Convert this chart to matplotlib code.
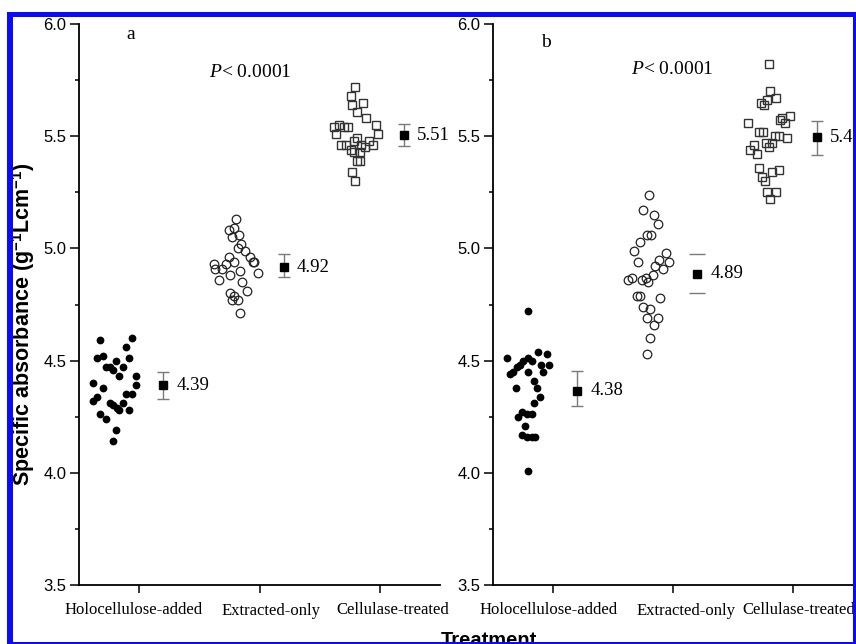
import matplotlib
matplotlib.use("Agg")
import matplotlib.pyplot as plt
from matplotlib.patches import Rectangle
from matplotlib.ticker import MultipleLocator, FormatStrFormatter
from matplotlib.transforms import ScaledTranslation

plt.rcParams["mathtext.fontset"] = "custom"
plt.rcParams["mathtext.it"] = "Liberation Serif:italic"
plt.rcParams["mathtext.rm"] = "Liberation Serif"
plt.rcParams["mathtext.bf"] = "Liberation Sans:bold"

# ---------------- data ----------------
categories = ["Holocellulose-added", "Extracted-only", "Cellulase-treated"]
yticks = [3.5, 4.0, 4.5, 5.0, 5.5, 6.0]

# panel a
holo_a = [4.59, 4.60, 4.56, 4.51, 4.52, 4.51, 4.50, 4.47, 4.47, 4.46,
          4.47, 4.43, 4.43, 4.40, 4.39, 4.38, 4.34, 4.32, 4.35, 4.35,
          4.31, 4.30, 4.29, 4.31, 4.28, 4.28, 4.26, 4.24, 4.19, 4.14]
holo_a_jit = [-0.325, -0.056, -0.108, -0.353, -0.297, -0.081, -0.192, -0.275, -0.242, -0.214,
              -0.136, -0.164, -0.025, -0.381, -0.025, -0.297, -0.353, -0.381, -0.108, -0.056,
              -0.242, -0.214, -0.186, -0.136, -0.164, -0.081, -0.325, -0.275, -0.192, -0.219]
extr_a = [5.13, 5.08, 5.09, 5.05, 5.06, 5.00, 5.02, 4.99, 4.96, 4.94,
          4.94, 4.96, 4.94, 4.93, 4.93, 4.91, 4.91, 4.90, 4.89, 4.88,
          4.86, 4.85, 4.81, 4.80, 4.79, 4.77, 4.77, 4.71]
extr_a_jit = [-0.192, -0.256, -0.214, -0.228, -0.172, -0.181, -0.150, -0.122, -0.081, -0.053,
              -0.048, -0.256, -0.214, -0.278, -0.381, -0.367, -0.311, -0.158, -0.014, -0.242,
              -0.339, -0.144, -0.103, -0.247, -0.214, -0.228, -0.181, -0.164]
cell_a = [5.72, 5.68, 5.65, 5.64, 5.61, 5.58, 5.55, 5.51, 5.54, 5.55,
          5.54, 5.54, 5.51, 5.49, 5.48, 5.48, 5.46, 5.46, 5.46, 5.46,
          5.45, 5.44, 5.43, 5.43, 5.39, 5.39, 5.34, 5.30]
cell_a_jit = [-0.206, -0.242, -0.144, -0.228, -0.186, -0.111, -0.033, -0.014, -0.381, -0.339,
              -0.297, -0.261, -0.361, -0.192, -0.214, -0.089, -0.056, -0.319, -0.283, -0.153,
              -0.125, -0.242, -0.214, -0.164, -0.192, -0.164, -0.228, -0.206]
means_a = [4.391, 4.917, 5.505]
mean_labels_a = ["4.39", "4.92", "5.51"]
err_lo_a = [0.062, 0.044, 0.049]
err_hi_a = [0.058, 0.058, 0.049]

# panel b
holo_b = [4.72, 4.54, 4.53, 4.51, 4.50, 4.51, 4.50, 4.48, 4.48, 4.48,
          4.47, 4.45, 4.44, 4.45, 4.45, 4.41, 4.38, 4.38, 4.34, 4.31,
          4.27, 4.25, 4.26, 4.26, 4.21, 4.17, 4.16, 4.16, 4.16, 4.01]
holo_b_jit = [-0.211, -0.128, -0.053, -0.381, -0.247, -0.206, -0.178, -0.103, -0.031, -0.275,
              -0.303, -0.331, -0.358, -0.206, -0.081, -0.156, -0.308, -0.136, -0.108, -0.156,
              -0.261, -0.289, -0.219, -0.178, -0.233, -0.261, -0.219, -0.178, -0.150, -0.211]
extr_b = [5.24, 5.17, 5.15, 5.11, 5.06, 5.06, 5.03, 4.99, 4.98, 4.94,
          4.95, 4.94, 4.92, 4.91, 4.88, 4.87, 4.86, 4.85, 4.86, 4.87,
          4.79, 4.79, 4.78, 4.74, 4.73, 4.69, 4.69, 4.66, 4.60, 4.53]
extr_b_jit = [-0.197, -0.247, -0.161, -0.128, -0.217, -0.183, -0.272, -0.322, -0.058, -0.289,
              -0.114, -0.031, -0.147, -0.086, -0.169, -0.225, -0.261, -0.206, -0.378, -0.344,
              -0.303, -0.275, -0.106, -0.247, -0.189, -0.217, -0.128, -0.161, -0.189, -0.217]
cell_b = [5.82, 5.70, 5.67, 5.66, 5.65, 5.64, 5.59, 5.58, 5.57, 5.56,
          5.56, 5.52, 5.52, 5.50, 5.50, 5.49, 5.47, 5.47, 5.45, 5.46,
          5.44, 5.42, 5.36, 5.32, 5.30, 5.34, 5.35, 5.25, 5.25, 5.22]
cell_b_jit = [-0.203, -0.189, -0.139, -0.217, -0.264, -0.244, -0.025, -0.092, -0.108, -0.069,
              -0.378, -0.281, -0.250, -0.147, -0.119, -0.050, -0.222, -0.175, -0.203, -0.328,
              -0.356, -0.300, -0.286, -0.258, -0.231, -0.175, -0.114, -0.217, -0.139, -0.189]
means_b = [4.366, 4.886, 5.496]
mean_labels_b = ["4.38", "4.89", "5.49"]
err_lo_b = [0.068, 0.086, 0.080]
err_hi_b = [0.088, 0.089, 0.071]

# ---------------- figure ----------------
W, H = 856, 644
fig = plt.figure(figsize=(W / 100, H / 100), dpi=100)
fig.patch.set_facecolor("white")


def px_rect(x0, y0, x1, y1):
    """figure fraction rect from pixel coords (origin top-left)"""
    return [x0 / W, 1 - y1 / H, (x1 - x0) / W, (y1 - y0) / H]


ax_a = fig.add_axes(px_rect(79, 24, 440, 585))
ax_b = fig.add_axes(px_rect(493, 24, 853, 585))

serif = "Liberation Serif"
sans = "Liberation Sans"
MEAN_OFF = 0.2
LABEL_OFF = 0.31


def setup(ax, label_shift):
    ax.set_xlim(0.5, 3.5)
    ax.set_ylim(3.5, 6.0)
    for s in ("top", "right"):
        ax.spines[s].set_visible(False)
    for s in ("left", "bottom"):
        ax.spines[s].set_linewidth(1.3)
    ax.set_xticks([1, 2, 3])
    ax.set_xticklabels(categories, fontfamily=serif, fontsize=12)
    ax.set_yticks(yticks)
    ax.yaxis.set_major_formatter(FormatStrFormatter("%.1f"))
    ax.yaxis.set_minor_locator(MultipleLocator(0.25))
    for lab in ax.get_yticklabels():
        lab.set_fontfamily(sans)
        lab.set_fontsize(12)
    ax.tick_params(axis="y", which="major", direction="out", length=6.5, width=1.1, pad=2.5)
    ax.tick_params(axis="y", which="minor", direction="out", length=3, width=1.1)
    ax.tick_params(axis="x", which="major", direction="out", length=6, width=1.1, pad=6)
    ax.tick_params(axis="x", which="minor", bottom=False)
    for lab, (dx, dy) in zip(ax.get_xticklabels(), label_shift):
        lab.set_transform(lab.get_transform() +
                          ScaledTranslation(dx / 100, dy / 100, fig.dpi_scale_trans))


def draw_panel(ax, groups, means, labels, lo, hi, cap_only=None):
    holo, holo_j = groups[0]
    extr, extr_j = groups[1]
    cell, cell_j = groups[2]
    ax.plot([1 + j for j in holo_j], holo, "o", color="black", ms=5.6, mew=0, zorder=3)
    ax.plot([2 + j for j in extr_j], extr, "o", mfc="none", mec="#222222", ms=6.2, mew=0.9, zorder=3)
    ax.plot([3 + j for j in cell_j], cell, "s", mfc="none", mec="#333333", ms=6.0, mew=1.0, zorder=3)
    for i in range(3):
        x = i + 1 + MEAN_OFF
        elw = 0 if (cap_only is not None and i == cap_only) else 1.0
        cs = 6 if (cap_only is not None and i == cap_only) else 4
        ax.errorbar([x], [means[i]], yerr=[[lo[i]], [hi[i]]], fmt="none",
                    ecolor="#7a7a7a", elinewidth=elw, capsize=cs, capthick=1.0, zorder=3)
        ax.plot([x], [means[i]], "s", color="black", ms=5.5, zorder=4)
        ax.text(i + 1 + LABEL_OFF, means[i], labels[i], fontfamily=serif, fontsize=13.5,
                ha="left", va="center", clip_on=False, zorder=5)


setup(ax_a, [(-6, 0), (11.5, -1.5), (13, 0)])
setup(ax_b, [(-4, 0), (12.7, -1.5), (5.5, 0)])
draw_panel(ax_a, [(holo_a, holo_a_jit), (extr_a, extr_a_jit), (cell_a, cell_a_jit)],
           means_a, mean_labels_a, err_lo_a, err_hi_a)
draw_panel(ax_b, [(holo_b, holo_b_jit), (extr_b, extr_b_jit), (cell_b, cell_b_jit)],
           means_b, mean_labels_b, err_lo_b, err_hi_b, cap_only=1)

ax_a.text(0.933, 5.933, "a", fontfamily=serif, fontsize=14, ha="center", va="baseline")
ax_b.text(0.942, 5.898, "b", fontfamily=serif, fontsize=14, ha="center", va="baseline")
ax_a.text(1.578, 5.762, r"$P$< 0.0001", fontfamily=serif, fontsize=14, ha="left", va="baseline")
ax_b.text(1.647, 5.777, r"$P$< 0.0001", fontfamily=serif, fontsize=14, ha="left", va="baseline")

fig.text(24 / W, 1 - 324 / H, r"Specific absorbance (g$^{\mathbf{-1}}$Lcm$^{\mathbf{-1}}$)",
         rotation=90, fontfamily=sans, fontweight="bold", fontsize=15.5, ha="center", va="center")
fig.text(489 / W, 1 - 645.5 / H, "Treatment", fontfamily=sans, fontweight="bold",
         fontsize=14.5, ha="center", va="baseline")

# blue frame
blue = "#0a0aff"
for r in (px_rect(7, 12, 856, 17), px_rect(7, 12, 12.7, 644),
          px_rect(853, 12, 856, 644), px_rect(7, 641.5, 856, 644)):
    fig.add_artist(Rectangle((r[0], r[1]), r[2], r[3], transform=fig.transFigure,
                             facecolor=blue, edgecolor="none", zorder=20))

fig.savefig("out.png", dpi=100)
